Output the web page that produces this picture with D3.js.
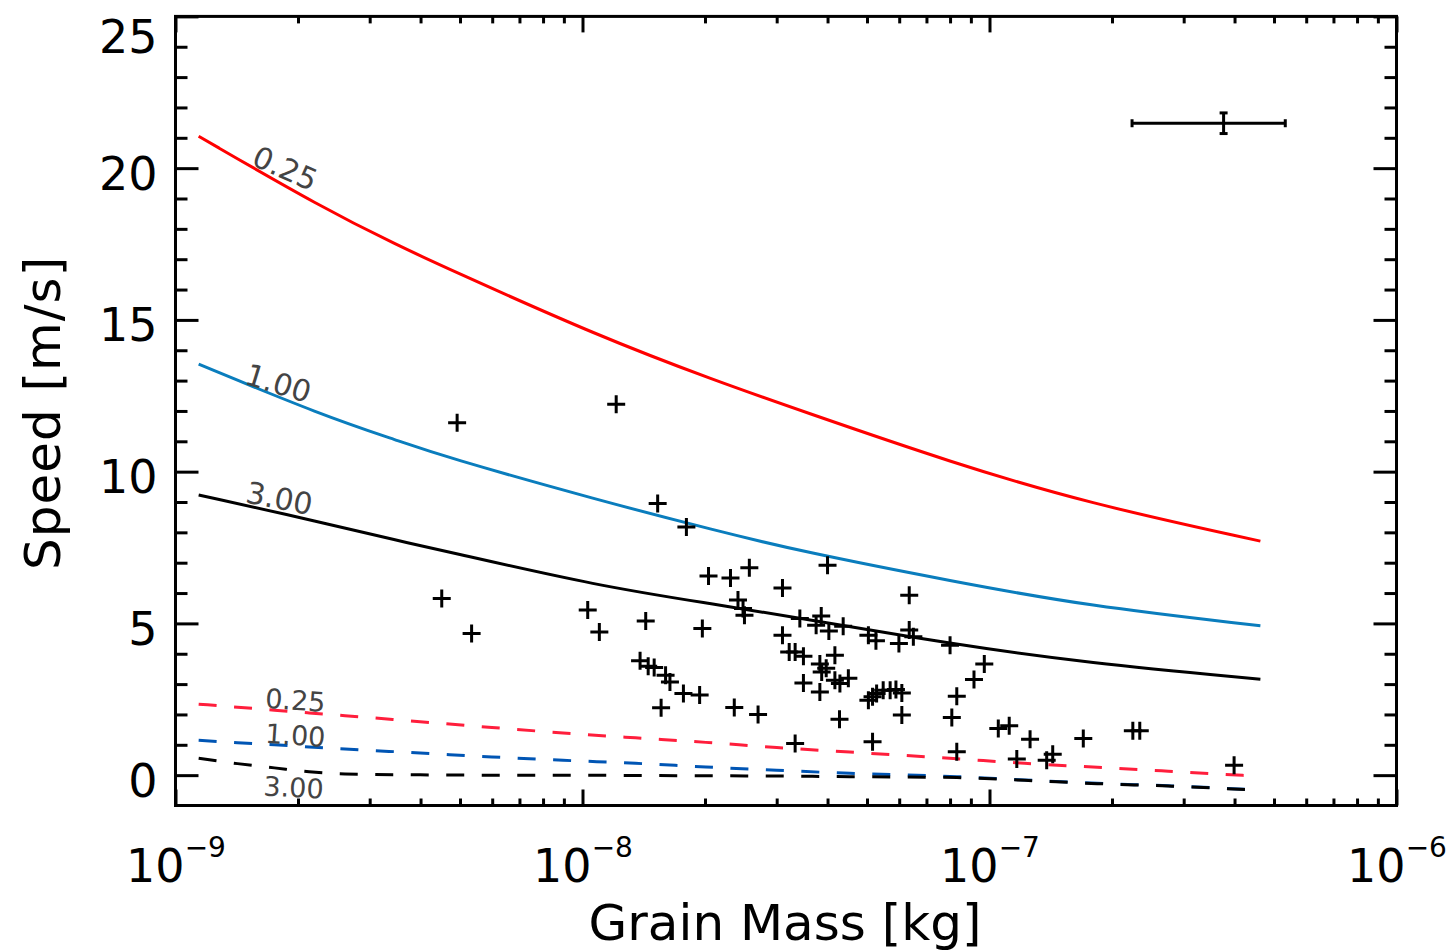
<!DOCTYPE html>
<html><head><meta charset="utf-8">
<script src="https://cdn.jsdelivr.net/npm/d3@7"></script>
<style>body{margin:0;background:#fff;} svg{display:block;}</style>
</head><body>
<svg id="chart" width="1455" height="952"></svg>
<script>
// ---------- data ----------
const massGridSolid = [1.14e-9, 2.29e-9, 3.56e-9, 4.51e-9, 1.1e-8, 2.14e-8, 3.42e-8, 8.15e-8, 1.73e-7, 4.63e-7];
const speedSolid025 = [21.05, 18.70, 17.42, 16.78, 14.45, 12.98, 12.02, 10.28, 8.97, 7.71];
const speedSolid100 = [13.54, 11.86, 11.00, 10.52, 9.05, 8.05, 7.38, 6.38, 5.58, 4.92];
const speedSolid300 = [9.23, 8.33, 7.71, 7.41, 6.22, 5.62, 5.17, 4.31, 3.70, 3.16];

const massGridDashed = [1.14e-9, 1.42e-9, 1.75e-9, 2.13e-9, 2.61e-9, 3.99e-9, 5.99e-9, 8.96e-9, 1.35e-8, 2.01e-8, 3.0e-8, 4.54e-8, 8.32e-8, 1.22e-7, 1.84e-7, 2.75e-7, 4.63e-7];
const speedDashed025 = [2.34, 2.24, 2.14, 2.05, 1.96, 1.76, 1.57, 1.39, 1.23, 1.08, 0.91, 0.76, 0.54, 0.39, 0.26, 0.13, -0.04];
const speedDashed100 = [1.15, 1.07, 1.00, 0.93, 0.86, 0.73, 0.60, 0.49, 0.39, 0.27, 0.16, 0.06, -0.05, -0.16, -0.27, -0.35, -0.49];
const speedDashed300 = [0.56, 0.38, 0.24, 0.11, 0.04, 0.01, 0.00, 0.00, -0.01, -0.02, -0.03, -0.05, -0.08, -0.17, -0.28, -0.36, -0.50];

const grainMass = [4.51e-9, 4.92e-9, 5.34e-9, 1.03e-8, 1.10e-8, 1.21e-8, 1.385e-8, 1.43e-8, 1.45e-8, 1.50e-8,
  1.53e-8, 1.56e-8, 1.60e-8, 1.64e-8, 1.77e-8, 1.80e-8, 1.94e-8, 1.97e-8, 2.04e-8, 2.31e-8,
  2.36e-8, 2.41e-8, 2.48e-8, 2.50e-8, 2.57e-8, 2.70e-8, 3.10e-8, 3.10e-8, 3.22e-8, 3.33e-8,
  3.49e-8, 3.33e-8, 3.42e-8, 3.49e-8, 3.86e-8, 3.75e-8, 4.03e-8, 4.37e-8, 3.83e-8, 3.97e-8,
  3.87e-8, 4.00e-8, 4.17e-8, 4.17e-8, 4.29e-8, 4.50e-8, 3.83e-8, 4.28e-8, 5.04e-8, 5.26e-8,
  5.04e-8, 5.16e-8, 5.28e-8, 5.48e-8, 5.70e-8, 5.89e-8, 6.09e-8, 5.16e-8, 5.99e-8, 6.35e-8,
  6.50e-8, 6.35e-8, 6.09e-8, 8.00e-8, 8.08e-8, 8.31e-8, 9.16e-8, 9.71e-8, 8.31e-8, 1.051e-7,
  1.118e-7, 1.167e-7, 1.258e-7, 1.382e-7, 1.430e-7, 1.70e-7, 2.25e-7, 2.34e-7, 3.99e-7];
const grainSpeed = [5.82, 11.61, 4.67, 5.44, 4.72, 12.22, 3.77, 5.08, 3.59, 3.55,
  8.95, 2.22, 3.29, 3.07, 2.69, 8.18, 2.64, 4.83, 6.56, 6.50,
  2.23, 5.77, 5.49, 5.27, 6.83, 2.00, 6.17, 4.61, 4.06, 4.06,
  3.92, 1.04, 5.16, 3.04, 5.24, 4.94, 4.75, 4.91, 3.66, 3.52,
  3.40, 6.92, 3.95, 3.13, 3.02, 3.19, 2.74, 1.84, 4.61, 4.43,
  2.47, 2.58, 2.69, 2.80, 2.80, 2.82, 2.71, 1.10, 4.34, 4.78,
  4.56, 5.93, 1.98, 4.28, 1.90, 2.60, 3.15, 3.66, 0.77, 1.54,
  1.63, 0.53, 1.18, 0.49, 0.69, 1.21, 1.46, 1.46, 0.33];

const errMass = 3.76e-7, errMassLo = 2.24e-7, errMassHi = 5.33e-7;
const errSpeed = 21.48, errSpeedLo = 21.14, errSpeedHi = 21.82;

const curveLabels = ["0.25", "1.00", "3.00"];
const solidLabelMass = [1.86e-9, 1.79e-9, 1.80e-9];
const solidLabelSpeed = [20.0, 12.92, 9.13];
const solidLabelAngle = [24, 17, 11];
const dashedLabelMass = [1.97e-9, 1.97e-9, 1.95e-9];
const dashedLabelSpeed = [2.47, 1.32, -0.40];
const dashedLabelAngle = [4, 4, 3];

const yMajorTicks = [0, 5, 10, 15, 20, 25];
const yMinorTicks = [1, 2, 3, 4, 6, 7, 8, 9, 11, 12, 13, 14, 16, 17, 18, 19, 21, 22, 23, 24];
const xMajorTicks = [1e-9, 1e-8, 1e-7, 1e-6];
const xMajorExp = ["\u22129", "\u22128", "\u22127", "\u22126"];
const xMinorTicks = [2e-9,3e-9,4e-9,5e-9,6e-9,7e-9,8e-9,9e-9,2e-8,3e-8,4e-8,5e-8,6e-8,7e-8,8e-8,9e-8,2e-7,3e-7,4e-7,5e-7,6e-7,7e-7,8e-7,9e-7];

const xTitle = "Grain Mass [kg]";
const yTitle = "Speed [m/s]";

// ---------- chart ----------
const FONT = "DejaVu Sans";
const L = 175.5, R = 1396.5, T = 16.4, B = 805.5;
const svg = d3.select("#chart");
const x = d3.scaleLog().domain([1e-9, 1e-6]).range([L, R]);
const y = d3.scaleLinear().domain([-1, 25]).range([B, T]);

function styleAxis(g) {
  g.select(".domain").remove();
  g.selectAll(".tick line").attr("stroke", "#000").attr("stroke-width", 3);
}

svg.append("g").attr("transform", `translate(${L},0)`)
  .call(d3.axisLeft(y).tickValues(yMinorTicks).tickSize(-12).tickFormat(""))
  .call(styleAxis);
svg.append("g").attr("transform", `translate(${R},0)`)
  .call(d3.axisRight(y).tickValues(yMinorTicks).tickSize(-12).tickFormat(""))
  .call(styleAxis);
svg.append("g").attr("transform", `translate(${R},0)`)
  .call(d3.axisRight(y).tickValues(yMajorTicks).tickSize(-23).tickFormat(""))
  .call(styleAxis);
const yAxisG = svg.append("g").attr("transform", `translate(${L},0)`)
  .call(d3.axisLeft(y).tickValues(yMajorTicks).tickSize(-23).tickPadding(18).tickFormat(d3.format("d")))
  .call(styleAxis);
yAxisG.selectAll(".tick text")
  .attr("font-family", FONT).attr("font-size", 46).attr("fill", "#000")
  .attr("dy", d => d === 25 ? "36px" : "21px");

svg.append("g").attr("transform", `translate(0,${T})`)
  .call(d3.axisTop(x).tickValues(xMinorTicks).tickSize(-7).tickFormat(""))
  .call(styleAxis);
svg.append("g").attr("transform", `translate(0,${T})`)
  .call(d3.axisTop(x).tickValues(xMajorTicks).tickSize(-16).tickFormat(""))
  .call(styleAxis);
svg.append("g").attr("transform", `translate(0,${B})`)
  .call(d3.axisBottom(x).tickValues(xMinorTicks).tickSize(-7).tickFormat(""))
  .call(styleAxis);
const xAxisG = svg.append("g").attr("transform", `translate(0,${B})`)
  .call(d3.axisBottom(x).tickValues(xMajorTicks).tickSize(-16).tickFormat(() => ""))
  .call(styleAxis);
xAxisG.selectAll(".tick text").each(function(d, i) {
  const t = d3.select(this);
  t.attr("y", 76).attr("dy", 0).attr("font-family", FONT).attr("fill", "#000").attr("text-anchor", "middle");
  t.append("tspan").attr("font-size", 46).text("10");
  t.append("tspan").attr("font-size", 28).attr("dy", -25).text(xMajorExp[i]);
});

svg.append("rect").attr("x", L).attr("y", T).attr("width", R - L).attr("height", B - T)
  .attr("fill", "none").attr("stroke", "#000").attr("stroke-width", 3);

const lineSolid = d3.line().x(d => x(d[0])).y(d => y(d[1])).curve(d3.curveBasis);
const lineDashed = d3.line().x(d => x(d[0])).y(d => y(d[1])).curve(d3.curveMonotoneX);
const solidSeries = [speedSolid025, speedSolid100, speedSolid300];
const solidColors = ["#ff0000", "#0a7dbd", "#000000"];
const dashedSeries = [speedDashed025, speedDashed100, speedDashed300];
const dashedColors = ["#ff1e3c", "#0055b4", "#000000"];

solidSeries.forEach((s, i) => {
  svg.append("path").datum(d3.zip(massGridSolid, s)).attr("d", lineSolid)
    .attr("fill", "none").attr("stroke", solidColors[i]).attr("stroke-width", 3);
});
dashedSeries.forEach((s, i) => {
  svg.append("path").datum(d3.zip(massGridDashed, s)).attr("d", lineDashed)
    .attr("fill", "none").attr("stroke", dashedColors[i]).attr("stroke-width", 3)
    .attr("stroke-dasharray", "18,17.5");
});

function addLabel(m, v, ang, txt, size) {
  svg.append("text")
    .attr("transform", `translate(${x(m)},${y(v)}) rotate(${ang})`)
    .attr("text-anchor", "middle").attr("dy", "0.36em")
    .attr("font-family", FONT).attr("font-size", size).attr("fill", "#444")
    .text(txt);
}
curveLabels.forEach((t, i) => addLabel(solidLabelMass[i], solidLabelSpeed[i], solidLabelAngle[i], t, 30));
curveLabels.forEach((t, i) => addLabel(dashedLabelMass[i], dashedLabelSpeed[i], dashedLabelAngle[i], t, 27));

const H = 9;
svg.append("g").selectAll("path").data(d3.zip(grainMass, grainSpeed)).join("path")
  .attr("d", d => { const px = x(d[0]), py = y(d[1]);
    return `M${px - H},${py}H${px + H}M${px},${py - H}V${py + H}`; })
  .attr("stroke", "#000").attr("stroke-width", 3).attr("fill", "none");

const eb = svg.append("g").attr("stroke", "#000").attr("stroke-width", 3).attr("fill", "none");
eb.append("line").attr("x1", x(errMassLo)).attr("x2", x(errMassHi)).attr("y1", y(errSpeed)).attr("y2", y(errSpeed));
eb.append("line").attr("x1", x(errMassLo)).attr("x2", x(errMassLo)).attr("y1", y(errSpeed) - 4).attr("y2", y(errSpeed) + 4);
eb.append("line").attr("x1", x(errMassHi)).attr("x2", x(errMassHi)).attr("y1", y(errSpeed) - 4).attr("y2", y(errSpeed) + 4);
eb.append("line").attr("x1", x(errMass)).attr("x2", x(errMass)).attr("y1", y(errSpeedLo)).attr("y2", y(errSpeedHi));
eb.append("line").attr("x1", x(errMass) - 4).attr("x2", x(errMass) + 4).attr("y1", y(errSpeedLo)).attr("y2", y(errSpeedLo));
eb.append("line").attr("x1", x(errMass) - 4).attr("x2", x(errMass) + 4).attr("y1", y(errSpeedHi)).attr("y2", y(errSpeedHi));

svg.append("text").attr("x", (L + R) / 2 - 1).attr("y", 940)
  .attr("text-anchor", "middle").attr("font-family", FONT).attr("font-size", 50).attr("fill", "#000")
  .text(xTitle);
svg.append("text").attr("transform", `translate(60,${(T + B) / 2 + 2}) rotate(-90)`)
  .attr("text-anchor", "middle").attr("font-family", FONT).attr("font-size", 50).attr("fill", "#000")
  .attr("letter-spacing", 1)
  .text(yTitle);
</script>
</body></html>
